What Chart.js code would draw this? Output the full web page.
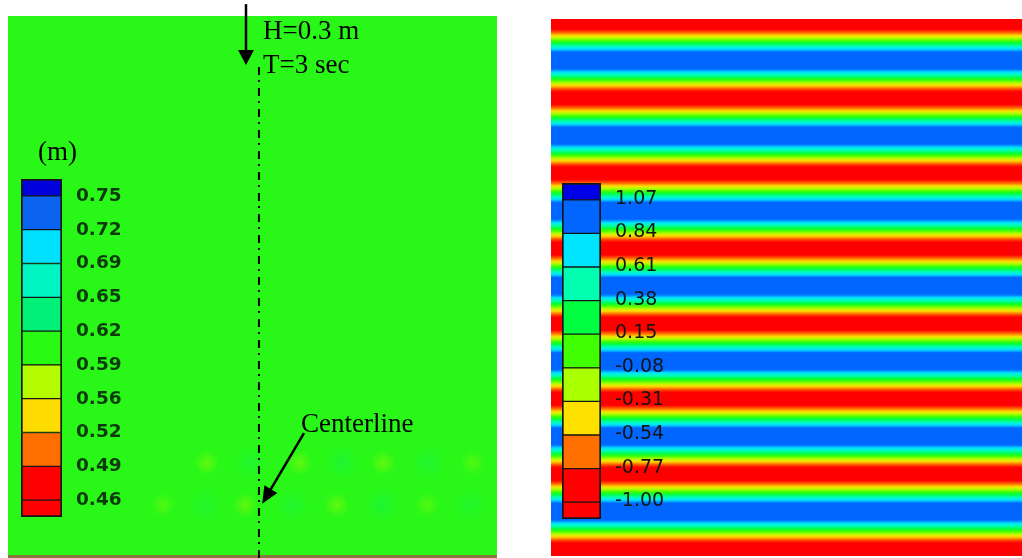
<!DOCTYPE html>
<html>
<head>
<meta charset="utf-8">
<title>Wave basin: water depth and surface elevation</title>
<script src="https://cdn.jsdelivr.net/npm/chart.js@4.4.1/dist/chart.umd.min.js"></script>
<style>
  html, body { margin: 0; padding: 0; background: #ffffff; }
  #wrap { position: relative; width: 1022px; height: 558px; overflow: hidden; }
  #wrap canvas { position: absolute; top: 0; }
</style>
</head>
<body>
<div id="wrap">
  <canvas id="depthField" width="510" height="558" style="left:0"></canvas>
  <canvas id="depthBar" width="150" height="558" style="left:0"></canvas>
  <canvas id="etaField" width="512" height="558" style="left:510px"></canvas>
  <canvas id="etaBar" width="200" height="558" style="left:510px"></canvas>
</div>
<script>
// ---------------- water depth map (m) ----------------
const depthLevels = [0.46, 0.49, 0.52, 0.56, 0.59, 0.62, 0.65, 0.69, 0.72, 0.75];
const depthBandColors = ['#ff0000', '#ff0000', '#ff6e00', '#ffdc00', '#b4fa00', '#28fa14',
                         '#00f078', '#00f5c3', '#00e1ff', '#0a64f0', '#0000dc'];
const baseDepth = 0.605;
// local humps and dips of the surface near the lee end of the basin (x, y in m)
const spotX = [37.0, 54.3, 69.8, 86.5, 28.8, 44.1, 61.2, 78.0];
const spotY = [17.1, 17.1, 17.1, 17.1, 9.3, 9.3, 9.3, 9.3];
const spotDepth = [0.585, 0.585, 0.585, 0.59, 0.59, 0.585, 0.585, 0.59];
const dipX = [45.0, 62.2, 78.2, 36.7, 52.9, 69.6, 86.0];
const dipY = [17.1, 17.1, 17.1, 9.3, 9.3, 9.3, 9.3];
const dipDepth = [0.62, 0.622, 0.62, 0.618, 0.62, 0.622, 0.618];
const centerlineX = 46.7;

// ---------------- surface elevation map ----------------
const etaLevels = [-1.00, -0.77, -0.54, -0.31, -0.08, 0.15, 0.38, 0.61, 0.84, 1.07];
const etaBandColors = ['#ff0000', '#ff0000', '#ff7000', '#ffe100', '#aaff00', '#40ff00',
                       '#00ff40', '#00ffb0', '#00e5ff', '#0066ff', '#0000e6'];
// elevation on each grid row, from the wavemaker end (top) to the far end
const rowSpacing = 0.875; // m
const etaRows = [
  -0.92, -0.97, -0.87, -0.63, -0.30, 0.09, 0.47, 0.78, 0.98, 1.03, 0.93, 0.69, 0.36, -0.03, -0.41, -0.72,
  -0.92, -0.97, -0.87, -0.63, -0.30, 0.09, 0.47, 0.78, 0.98, 1.03, 0.93, 0.69, 0.36, -0.03, -0.41, -0.72,
  -0.92, -0.97, -0.87, -0.63, -0.30, 0.09, 0.47, 0.78, 0.98, 1.03, 0.93, 0.69, 0.36, -0.03, -0.41, -0.72,
  -0.92, -0.97, -0.87, -0.63, -0.30, 0.09, 0.47, 0.78, 0.98, 1.03, 0.93, 0.69, 0.36, -0.03, -0.41, -0.72,
  -0.92, -0.97, -0.87, -0.63, -0.30, 0.09, 0.47, 0.78, 0.98, 1.03, 0.93, 0.69, 0.36, -0.03, -0.41, -0.72,
  -0.92, -0.97, -0.87, -0.63, -0.30, 0.09, 0.47, 0.78, 0.98, 1.03, 0.93, 0.69, 0.36, -0.03, -0.41, -0.72,
  -0.92, -0.97, -0.87, -0.63, -0.30, 0.09, 0.47, 0.78, 0.98, 1.03, 0.93, 0.69, 0.36, -0.03, -0.41, -0.72,
  -0.92, -0.97, -0.87
];

// ---------------- colour scales ----------------
const depthShade = [
  [0.475, [255, 0, 0]], [0.505, [255, 110, 0]], [0.54, [255, 220, 0]], [0.575, [180, 250, 0]],
  [0.605, [40, 247, 24]], [0.635, [0, 240, 120]], [0.67, [0, 245, 195]], [0.705, [0, 225, 255]],
  [0.735, [10, 100, 240]], [0.76, [0, 0, 220]]
];
const etaShade = [
  [-0.82, [255, 0, 0]], [-0.64, [255, 112, 0]], [-0.45, [255, 225, 0]], [-0.25, [170, 255, 0]],
  [-0.05, [64, 255, 0]], [0.16, [0, 255, 64]], [0.38, [0, 255, 176]], [0.59, [0, 229, 255]],
  [0.79, [0, 102, 255]]
];
function shadeAt(stops, v) {
  if (v <= stops[0][0]) return stops[0][1];
  for (let i = 1; i < stops.length; i++) {
    if (v <= stops[i][0]) {
      const [v0, c0] = stops[i - 1];
      const [v1, c1] = stops[i];
      const t = (v - v0) / (v1 - v0);
      return c0.map((c, j) => Math.round(c + (c1[j] - c) * t));
    }
  }
  return stops[stops.length - 1][1];
}
const rgba = (c, a = 1) => `rgba(${c[0]},${c[1]},${c[2]},${a})`;

// soft round blob for a local extreme, centred on its point
function blobFill(values, radius, alpha) {
  return (c) => {
    if (c.type !== 'data' || !c.raw) return 'rgba(0,0,0,0)';
    const { chart } = c;
    const xs = chart.scales && chart.scales.x, ys = chart.scales && chart.scales.y;
    if (!xs || !ys) return 'rgba(0,0,0,0)';
    const px = xs.getPixelForValue(c.raw.x);
    const py = ys.getPixelForValue(c.raw.y);
    if (!isFinite(px) || !isFinite(py)) return 'rgba(0,0,0,0)';
    const col = shadeAt(depthShade, values[c.dataIndex]);
    const g = chart.ctx.createRadialGradient(px, py, 0, px, py, radius);
    g.addColorStop(0, rgba(col, alpha));
    g.addColorStop(1, rgba(col, 0));
    return g;
  };
}

// vertical colour ramp through all grid rows of the elevation field
function etaFill(c) {
  const chart = c.chart;
  const ys = chart.scales && chart.scales.y;
  const fallback = rgba(shadeAt(etaShade, etaRows[0]));
  if (!chart.chartArea || !ys) return fallback;
  const yTop = 100;
  const top = ys.getPixelForValue(yTop);
  const bot = ys.getPixelForValue(0);
  if (!isFinite(top) || !isFinite(bot) || bot <= top) return fallback;
  const g = chart.ctx.createLinearGradient(0, top, 0, bot);
  const n = etaRows.length;
  for (let k = 0; k < n; k++) {
    const steps = k < n - 1 ? 4 : 1;
    for (let s = 0; s < steps; s++) {
      const t = s / steps;
      const v = k < n - 1 ? etaRows[k] + (etaRows[k + 1] - etaRows[k]) * t : etaRows[k];
      const yy = yTop - (k + t) * rowSpacing;
      const off = (ys.getPixelForValue(yy) - top) / (bot - top);
      if (off >= 0 && off <= 1) g.addColorStop(off, rgba(shadeAt(etaShade, v)));
    }
  }
  return g;
}

// arrows and captions, placed in basin coordinates
const basinNotes = {
  id: 'basinNotes',
  afterDatasetsDraw(chart, args, opts) {
    const { ctx } = chart;
    const xs = chart.scales.x, ys = chart.scales.y;
    ctx.save();
    ctx.fillStyle = '#000';
    ctx.strokeStyle = '#000';
    for (const a of opts.arrows || []) {
      const x1 = xs.getPixelForValue(a.from[0]), y1 = ys.getPixelForValue(a.from[1]);
      const x2 = xs.getPixelForValue(a.to[0]), y2 = ys.getPixelForValue(a.to[1]);
      const ang = Math.atan2(y2 - y1, x2 - x1);
      const bx = x2 - Math.cos(ang) * a.head, by = y2 - Math.sin(ang) * a.head;
      ctx.lineWidth = a.width;
      ctx.beginPath();
      ctx.moveTo(x1, y1);
      ctx.lineTo(bx + Math.cos(ang) * 2, by + Math.sin(ang) * 2);
      ctx.stroke();
      ctx.beginPath();
      ctx.moveTo(x2, y2);
      ctx.lineTo(bx - Math.sin(ang) * a.half, by + Math.cos(ang) * a.half);
      ctx.lineTo(bx + Math.sin(ang) * a.half, by - Math.cos(ang) * a.half);
      ctx.closePath();
      ctx.fill();
    }
    ctx.font = opts.font;
    ctx.textBaseline = 'alphabetic';
    ctx.textAlign = 'left';
    for (const t of opts.texts || []) {
      ctx.fillText(t.text, xs.getPixelForValue(t.at[0]), ys.getPixelForValue(t.at[1]));
    }
    ctx.restore();
  }
};

const quiet = { legend: { display: false }, tooltip: { enabled: false } };

// ---------------- left: depth field ----------------
new Chart(document.getElementById('depthField'), {
  type: 'line',
  data: {
    datasets: [
      {
        label: 'Water depth',
        data: [{ x: 0, y: 100 }, { x: 91, y: 100 }],
        fill: 'origin',
        backgroundColor: rgba(shadeAt(depthShade, baseDepth)),
        borderWidth: 0, pointRadius: 0, order: 10
      },
      {
        type: 'bubble', label: 'Dips',
        data: dipX.map((x, i) => ({ x, y: dipY[i] })),
        radius: 17, borderWidth: 0,
        backgroundColor: blobFill(dipDepth, 17, 0.45), order: 9
      },
      {
        type: 'bubble', label: 'Humps',
        data: spotX.map((x, i) => ({ x, y: spotY[i] })),
        radius: 13, borderWidth: 0,
        backgroundColor: blobFill(spotDepth, 13, 0.6), order: 8
      },
      {
        label: 'Bed',
        data: [{ x: 0, y: -0.28 }, { x: 91, y: -0.28 }],
        borderColor: 'rgb(140,118,62)', borderWidth: 3, pointRadius: 0, fill: false, order: 7
      },
      {
        label: 'Centerline',
        data: [{ x: centerlineX, y: 90.54 }, { x: centerlineX, y: -0.56 }],
        borderColor: '#000', borderWidth: 2, borderDash: [8, 5, 2, 6], borderCapStyle: 'butt',
        pointRadius: 0, fill: false, order: 1
      }
    ]
  },
  options: {
    responsive: false, animation: false, events: [],
    layout: { autoPadding: false, padding: { left: 8, top: 16, right: 13, bottom: 0 } },
    plugins: {
      ...quiet,
      basinNotes: {
        font: '27px "Liberation Serif", "Times New Roman", serif',
        arrows: [
          { from: [44.29, 102.2], to: [44.29, 90.9], head: 15, half: 8, width: 2.5 },
          { from: [55.08, 22.6], to: [47.3, 9.5], head: 17, half: 7.5, width: 2.5 }
        ],
        texts: [
          { text: 'H=0.3 m', at: [47.45, 95.68] },
          { text: 'T=3 sec', at: [47.45, 89.48] },
          { text: 'Centerline', at: [54.52, 22.88] },
          { text: '(m)', at: [5.58, 73.28] }
        ]
      }
    },
    scales: {
      x: { type: 'linear', display: false, min: 0, max: 91 },
      y: { type: 'linear', display: false, min: -0.557, max: 100 }
    }
  },
  plugins: [basinNotes]
});

// ---------------- right: elevation field ----------------
new Chart(document.getElementById('etaField'), {
  type: 'line',
  data: {
    datasets: [{
      label: 'Surface elevation',
      data: [{ x: 0, y: 100 }, { x: 87.7, y: 100 }],
      fill: 'origin',
      backgroundColor: etaFill,
      borderWidth: 0, pointRadius: 0
    }]
  },
  options: {
    responsive: false, animation: false, events: [],
    layout: { autoPadding: false, padding: { left: 41, top: 19, right: 0, bottom: 0 } },
    plugins: quiet,
    scales: {
      x: { type: 'linear', display: false, min: 0, max: 87.7 },
      y: { type: 'linear', display: false, min: -0.372, max: 100 }
    }
  }
});

// ---------------- colour bars ----------------
function colorbar(canvasId, levels, bandColors, pad, axisWidth, font, textColor, labelOffset) {
  const n = levels.length;
  const last = bandColors.length - 1;
  return new Chart(document.getElementById(canvasId), {
    type: 'bar',
    data: {
      labels: [''],
      datasets: bandColors.map((col, i) => ({
        data: [[Math.max(0, i - 0.5), Math.min(n, i + 0.5)]],
        backgroundColor: col,
        borderColor: '#161616',
        borderWidth: { left: 2, right: 2, top: i === last ? 2 : 1, bottom: i === 0 ? 2 : 1 },
        borderSkipped: false,
        grouped: false,
        barPercentage: 1,
        categoryPercentage: 1
      }))
    },
    options: {
      responsive: false, animation: false, events: [],
      layout: { autoPadding: false, padding: pad },
      plugins: quiet,
      scales: {
        x: { display: false },
        y: {
          min: 0, max: n, position: 'right',
          grid: { display: false, drawTicks: false },
          border: { display: false },
          afterBuildTicks: (ax) => { ax.ticks = levels.map((_, j) => ({ value: j + 0.5 })); },
          afterFit: (ax) => { ax.width = axisWidth; },
          ticks: {
            padding: 14, labelOffset, autoSkip: false,
            font, color: textColor,
            callback: (v) => levels[Math.round(v - 0.5)].toFixed(2)
          }
        }
      }
    }
  });
}

colorbar('depthBar', depthLevels, depthBandColors,
  { left: 21, top: 179, right: 0, bottom: 41 }, 88,
  { family: '"DejaVu Sans", sans-serif', size: 18.5, weight: 'bold' }, '#0d3a0d', 0);
colorbar('etaBar', etaLevels, etaBandColors,
  { left: 52, top: 183, right: 0, bottom: 39 }, 109,
  { family: '"DejaVu Sans", sans-serif', size: 19, weight: 'normal' }, '#141414', -1);
</script>
</body>
</html>
